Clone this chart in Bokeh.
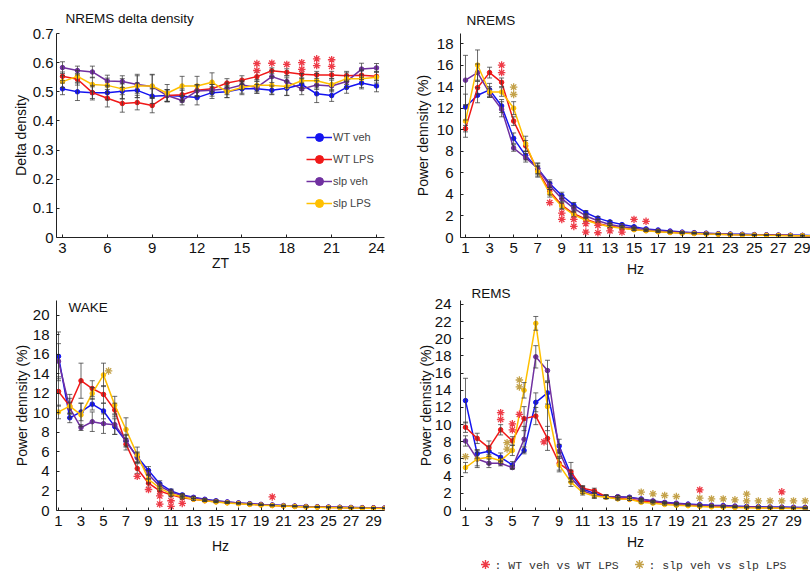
from bokeh.plotting import figure
from bokeh.layouts import column, row
from bokeh.models import Range1d, FixedTicker, Legend, LegendItem, Label, Spacer
from bokeh.core.properties import value
from bokeh.embed import file_html
from bokeh.resources import INLINE

# ---------------- data ----------------
SERIES = ["WT veh", "WT LPS", "slp veh", "slp LPS"]
COLORS = ["#1414f0", "#f01818", "#7030a0", "#ffc000"]
STAR_RED = "#ee3b47"
STAR_GOLD = "#c4a24a"

ZT = [3, 4, 5, 6, 7, 8, 9, 10, 11, 12, 13, 14, 15, 16, 17, 18, 19, 20, 21, 22, 23, 24]
HZ = [1, 2, 3, 4, 5, 6, 7, 8, 9, 10, 11, 12, 13, 14, 15, 16, 17, 18, 19, 20,
      21, 22, 23, 24, 25, 26, 27, 28, 29, 30]

# NREMS delta density
delta_wt_veh = [0.510, 0.500, 0.497, 0.497, 0.502, 0.505, 0.485, 0.487, 0.485, 0.480, 0.497,
                0.500, 0.510, 0.510, 0.505, 0.512, 0.525, 0.493, 0.487, 0.515, 0.530, 0.520]
delta_wt_lps = [0.553, 0.543, 0.497, 0.478, 0.460, 0.463, 0.453, 0.487, 0.490, 0.505, 0.510,
                0.530, 0.540, 0.552, 0.572, 0.567, 0.560, 0.558, 0.558, 0.555, 0.557, 0.553]
delta_slp_veh = [0.583, 0.573, 0.568, 0.537, 0.535, 0.525, 0.518, 0.487, 0.470, 0.503, 0.505,
                 0.510, 0.523, 0.515, 0.552, 0.535, 0.510, 0.523, 0.520, 0.535, 0.578, 0.582]
delta_slp_lps = [0.535, 0.553, 0.525, 0.522, 0.510, 0.520, 0.520, 0.495, 0.520, 0.520, 0.533,
                 0.500, 0.515, 0.522, 0.522, 0.518, 0.538, 0.538, 0.525, 0.545, 0.545, 0.550]
delta_err_wt_veh = [0.020, 0.030, 0.025, 0.025, 0.025, 0.025, 0.025, 0.020, 0.020, 0.025, 0.020,
                    0.020, 0.020, 0.015, 0.015, 0.025, 0.020, 0.030, 0.020, 0.020, 0.020, 0.020]
delta_err_wt_lps = [0.015, 0.020, 0.020, 0.030, 0.030, 0.025, 0.025, 0.020, 0.020, 0.020, 0.015,
                    0.015, 0.015, 0.015, 0.010, 0.012, 0.012, 0.012, 0.012, 0.015, 0.015, 0.015]
delta_err_slp_veh = [0.020, 0.015, 0.020, 0.020, 0.020, 0.030, 0.040, 0.020, 0.015, 0.020, 0.020,
                     0.020, 0.015, 0.020, 0.020, 0.020, 0.020, 0.015, 0.020, 0.020, 0.020, 0.015]
delta_err_slp_lps = [0.020, 0.020, 0.025, 0.025, 0.035, 0.040, 0.040, 0.030, 0.033, 0.033, 0.032,
                     0.020, 0.020, 0.020, 0.030, 0.030, 0.025, 0.025, 0.020, 0.020, 0.030, 0.020]
delta_star_red_x = [16, 16, 17, 18, 19, 19, 20, 20, 21, 21]
delta_star_red_y = [0.597, 0.573, 0.598, 0.594, 0.600, 0.577, 0.613, 0.590, 0.610, 0.587]

# NREMS power density
nrems_wt_veh = [12.1, 13.2, 13.7, 12.2, 9.2, 7.6, 6.4, 5.0, 3.9, 3.0, 2.3, 1.8, 1.45, 1.2, 1.0,
                0.8, 0.7, 0.6, 0.5, 0.45, 0.4, 0.35, 0.32, 0.3, 0.27, 0.25, 0.23, 0.21, 0.2, 0.19]
nrems_wt_lps = [10.1, 13.9, 15.3, 14.4, 10.8, 8.5, 6.2, 4.3, 3.0, 2.2, 1.7, 1.3, 1.05, 0.9, 0.75,
                0.65, 0.55, 0.48, 0.42, 0.38, 0.34, 0.3, 0.27, 0.25, 0.23, 0.21, 0.2, 0.18, 0.17, 0.16]
nrems_slp_veh = [14.6, 15.3, 13.4, 11.9, 8.3, 7.4, 6.4, 4.8, 3.6, 2.7, 2.0, 1.55, 1.2, 1.0, 0.85,
                 0.72, 0.62, 0.54, 0.47, 0.42, 0.38, 0.34, 0.3, 0.28, 0.25, 0.23, 0.21, 0.2, 0.18, 0.17]
nrems_slp_lps = [10.8, 16.0, 13.5, 13.5, 12.0, 8.7, 6.1, 4.1, 2.9, 2.1, 1.6, 1.25, 1.0, 0.85, 0.72,
                 0.62, 0.53, 0.46, 0.4, 0.36, 0.32, 0.29, 0.26, 0.24, 0.22, 0.2, 0.19, 0.17, 0.16, 0.15]
nrems_err_wt_veh = [1.2, 0.7, 0.6, 0.6, 0.5, 0.4, 0.5, 0.35, 0.3, 0.25, 0.2, 0.15, 0.12, 0.1, 0.08,
                    0.07, 0.06, 0.05, 0.05, 0.04, 0.04, 0.03, 0.03, 0.03, 0.03, 0.02, 0.02, 0.02, 0.02, 0.02]
nrems_err_wt_lps = [0.3, 0.6, 0.5, 0.4, 0.4, 0.5, 0.5, 0.35, 0.3, 0.25, 0.2, 0.15, 0.12, 0.1, 0.08,
                    0.07, 0.06, 0.05, 0.05, 0.04, 0.04, 0.03, 0.03, 0.03, 0.03, 0.02, 0.02, 0.02, 0.02, 0.02]
nrems_err_slp_veh = [2.3, 0.8, 0.4, 0.7, 0.3, 0.4, 0.5, 0.35, 0.3, 0.25, 0.2, 0.15, 0.12, 0.1, 0.08,
                     0.07, 0.06, 0.05, 0.05, 0.04, 0.04, 0.03, 0.03, 0.03, 0.03, 0.02, 0.02, 0.02, 0.02, 0.02]
nrems_err_slp_lps = [1.5, 1.4, 0.5, 0.4, 0.6, 0.7, 0.5, 0.35, 0.3, 0.25, 0.2, 0.15, 0.12, 0.1, 0.08,
                     0.07, 0.06, 0.05, 0.05, 0.04, 0.04, 0.03, 0.03, 0.03, 0.03, 0.02, 0.02, 0.02, 0.02, 0.02]
nrems_star_red_x = [4, 4, 8, 9, 9, 10, 10, 11, 11, 12, 12, 13, 14, 15, 16]
nrems_star_red_y = [16.0, 15.3, 3.24, 2.27, 1.68, 1.68, 1.03, 1.28, 0.5, 1.12, 0.44, 0.62, 0.5, 1.68, 1.5]
nrems_star_gold_x = [5, 5]
nrems_star_gold_y = [13.96, 13.27]

# WAKE power density
wake_wt_veh = [15.8, 9.5, 10.1, 10.9, 10.2, 8.6, 7.1, 5.5, 4.1, 2.75, 2.0, 1.6, 1.35, 1.15, 1.0,
               0.88, 0.78, 0.7, 0.62, 0.56, 0.5, 0.45, 0.41, 0.38, 0.35, 0.33, 0.31, 0.29, 0.27, 0.26]
wake_wt_lps = [12.2, 10.7, 13.3, 12.5, 11.9, 10.3, 6.8, 4.3, 2.8, 2.0, 1.6, 1.3, 1.15, 1.0, 0.9,
               0.8, 0.72, 0.64, 0.58, 0.52, 0.47, 0.42, 0.38, 0.35, 0.32, 0.3, 0.28, 0.26, 0.25, 0.24]
wake_slp_veh = [15.3, 10.5, 8.5, 9.1, 8.9, 8.8, 7.2, 5.4, 3.7, 2.5, 1.9, 1.5, 1.3, 1.1, 0.97,
                0.86, 0.77, 0.69, 0.62, 0.56, 0.5, 0.45, 0.41, 0.38, 0.35, 0.33, 0.31, 0.29, 0.27, 0.26]
wake_slp_lps = [10.1, 10.7, 9.8, 12.0, 13.9, 10.8, 8.3, 5.7, 3.2, 2.3, 1.7, 1.4, 1.15, 1.0, 0.87,
                0.78, 0.7, 0.62, 0.55, 0.5, 0.45, 0.4, 0.36, 0.33, 0.3, 0.28, 0.26, 0.24, 0.22, 0.21]
wake_err_wt_veh = [2.5, 0.5, 0.9, 0.6, 0.8, 0.8, 0.6, 0.5, 0.4, 0.3, 0.2, 0.15, 0.1, 0.08, 0.07,
                   0.06, 0.05, 0.05, 0.04, 0.04, 0.04, 0.03, 0.03, 0.03, 0.03, 0.03, 0.02, 0.02, 0.02, 0.02]
wake_err_wt_lps = [1.5, 1.2, 1.8, 0.8, 0.9, 0.7, 0.6, 0.5, 0.4, 0.3, 0.2, 0.15, 0.1, 0.08, 0.07,
                   0.06, 0.05, 0.05, 0.04, 0.04, 0.04, 0.03, 0.03, 0.03, 0.03, 0.03, 0.02, 0.02, 0.02, 0.02]
wake_err_slp_veh = [1.8, 0.6, 0.3, 1.0, 1.0, 1.0, 0.6, 0.5, 0.4, 0.3, 0.2, 0.15, 0.1, 0.08, 0.07,
                    0.06, 0.05, 0.05, 0.04, 0.04, 0.04, 0.03, 0.03, 0.03, 0.03, 0.03, 0.02, 0.02, 0.02, 0.02]
wake_err_slp_lps = [0.7, 0.8, 1.2, 0.6, 1.2, 0.9, 1.2, 0.8, 0.4, 0.3, 0.2, 0.15, 0.1, 0.08, 0.07,
                    0.06, 0.05, 0.05, 0.04, 0.04, 0.04, 0.03, 0.03, 0.03, 0.03, 0.03, 0.02, 0.02, 0.02, 0.02]
wake_star_red_x = [8, 9, 10, 10, 11, 11, 12, 20]
wake_star_red_y = [3.5, 2.15, 1.49, 0.66, 1.0, 0.43, 0.73, 1.39]
wake_star_gold_x = [5.45]
wake_star_gold_y = [14.3]

# REMS power density
rems_wt_veh = [12.8, 6.6, 6.9, 6.2, 5.3, 7.0, 12.6, 13.7, 7.5, 4.2, 2.5, 2.0, 1.6, 1.6, 1.55,
               1.35, 1.1, 0.95, 0.85, 0.75, 0.68, 0.62, 0.57, 0.52, 0.48, 0.45, 0.42, 0.4, 0.38, 0.36]
rems_wt_lps = [9.7, 8.4, 7.3, 9.4, 8.1, 10.7, 11.0, 8.4, 5.5, 4.5, 2.6, 2.3, 1.6, 1.4, 1.3,
               1.1, 1.0, 0.85, 0.75, 0.65, 0.55, 0.5, 0.45, 0.4, 0.37, 0.34, 0.32, 0.3, 0.28, 0.27]
rems_slp_veh = [8.1, 6.0, 5.5, 5.5, 5.0, 8.3, 17.9, 16.3, 6.9, 3.8, 2.3, 1.8, 1.6, 1.6, 1.5,
                1.3, 1.1, 0.9, 0.8, 0.7, 0.62, 0.56, 0.51, 0.46, 0.42, 0.39, 0.37, 0.35, 0.33, 0.31]
rems_slp_lps = [5.0, 6.0, 6.2, 5.8, 7.0, 14.0, 21.8, 12.1, 5.3, 3.3, 2.1, 1.7, 1.55, 1.35, 1.3,
                0.95, 0.85, 0.7, 0.6, 0.55, 0.48, 0.42, 0.38, 0.35, 0.32, 0.3, 0.28, 0.26, 0.24, 0.23]
rems_err_wt_veh = [2.6, 0.5, 0.6, 0.5, 0.4, 0.4, 1.1, 1.3, 0.8, 0.5, 0.3, 0.3, 0.2, 0.15, 0.12,
                   0.1, 0.1, 0.08, 0.07, 0.06, 0.06, 0.05, 0.05, 0.05, 0.05, 0.05, 0.05, 0.05, 0.05, 0.05]
rems_err_wt_lps = [0.6, 0.6, 0.8, 0.6, 0.5, 1.4, 1.0, 1.4, 0.8, 1.1, 0.3, 0.3, 0.2, 0.15, 0.12,
                   0.1, 0.1, 0.08, 0.07, 0.06, 0.06, 0.05, 0.05, 0.05, 0.05, 0.05, 0.05, 0.05, 0.05, 0.05]
rems_err_slp_veh = [0.6, 1.0, 0.5, 0.3, 0.2, 1.5, 1.3, 1.2, 0.8, 0.5, 0.3, 0.3, 0.2, 0.15, 0.12,
                    0.1, 0.1, 0.08, 0.07, 0.06, 0.06, 0.05, 0.05, 0.05, 0.05, 0.05, 0.05, 0.05, 0.05, 0.05]
rems_err_slp_lps = [0.6, 0.8, 0.8, 0.3, 0.6, 0.9, 0.8, 2.8, 0.8, 0.5, 0.3, 0.3, 0.2, 0.15, 0.12,
                    0.1, 0.1, 0.08, 0.07, 0.06, 0.06, 0.05, 0.05, 0.05, 0.05, 0.05, 0.05, 0.05, 0.05, 0.05]
rems_star_red_x = [4, 4, 5, 5, 5.6, 7.7, 21, 28]
rems_star_red_y = [11.4, 10.6, 10.1, 9.4, 11.2, 8.0, 2.4, 2.17]
rems_star_gold_x = [1, 4.55, 4.55, 5.6, 5.6, 16, 17, 18, 19, 21, 22, 23, 24, 25, 25, 26, 27, 28, 29, 30]
rems_star_gold_y = [6.27, 7.9, 7.16, 15.2, 14.4, 2.13, 1.94, 1.75, 1.63, 1.43, 1.35, 1.35, 1.24,
                    1.9, 1.12, 1.12, 1.12, 1.12, 1.12, 1.12]

KEY_LABELS = ["WT veh vs WT LPS", "slp veh vs slp LPS"]

DELTA_YTICKS = [0, 0.1, 0.2, 0.3, 0.4, 0.5, 0.6, 0.7]
DELTA_YLABELS = ["0", "0.1", "0.2", "0.3", "0.4", "0.5", "0.6", "0.7"]
DELTA_XTICKS = [3, 6, 9, 12, 15, 18, 21, 24]
HZ_TICKS = [1, 3, 5, 7, 9, 11, 13, 15, 17, 19, 21, 23, 25, 27, 29]

FONT = "Liberation Sans"


def make_panel(fig_box, frame, xcal, ycal, xticks, yticks, ylabels, xlabel, ylabel,
               xs, ys_list, errs_list, red_stars, gold_stars,
               tick_stand=(5, 5), label_stand=(2, 4)):
    fx, fy, fw, fh = fig_box
    l, r, t, b = frame
    (xv1, xp1), (xv2, xp2) = xcal
    (yv1, yp1), (yv2, yp2) = ycal
    xs_scale = (xv2 - xv1) / (xp2 - xp1)
    ys_scale = (yv2 - yv1) / (yp1 - yp2)
    x0 = round(xv1 + (l - xp1) * xs_scale, 6)
    x1 = round(xv1 + (r - xp1) * xs_scale, 6)
    y0 = round(yv1 + (yp1 - b) * ys_scale, 6)
    y1 = round(yv1 + (yp1 - t) * ys_scale, 6)

    def to_data(px, py):
        return (xv1 + (px - xp1) * xs_scale, yv1 + (yp1 - py) * ys_scale)

    p = figure(width=fw, height=fh, x_range=Range1d(x0, x1), y_range=Range1d(y0, y1),
               output_backend="svg", toolbar_location=None,
               min_border_left=l - fx, min_border_right=fx + fw - r,
               min_border_top=t - fy, min_border_bottom=fy + fh - b)
    p.xgrid.visible = False
    p.ygrid.visible = False
    p.outline_line_color = None
    p.background_fill_color = "white"
    p.border_fill_color = "white"

    for ax, ticks in ((p.xaxis[0], xticks), (p.yaxis[0], yticks)):
        ax.ticker = FixedTicker(ticks=ticks)
        ax.minor_tick_line_color = None
        ax.major_tick_in = 3
        ax.major_tick_out = 0
        ax.axis_line_color = "#222222"
        ax.major_tick_line_color = "#222222"
        ax.major_label_text_font = FONT
        ax.major_label_text_font_size = "15px"
        ax.major_label_text_color = "#111111"
        ax.axis_label_text_font = FONT
        ax.axis_label_text_font_size = "14px"
        ax.axis_label_text_font_style = "normal"
        ax.axis_label_text_color = "#111111"
    p.xaxis[0].axis_label = xlabel
    p.yaxis[0].axis_label = ylabel
    p.xaxis[0].major_label_standoff = tick_stand[0]
    p.yaxis[0].major_label_standoff = tick_stand[1]
    p.xaxis[0].axis_label_standoff = label_stand[0]
    p.yaxis[0].axis_label_standoff = label_stand[1]
    p.yaxis[0].major_label_overrides = {v: s for v, s in zip(yticks, ylabels)}

    renderers = []
    for ys, col in zip(ys_list, COLORS):
        ln = p.line(xs, ys, line_color=col, line_width=1.5)
        mk = p.scatter(xs, ys, size=4.5, marker="circle", fill_color=col, line_color=col)
        renderers.append((ln, mk))
    for ys, errs in zip(ys_list, errs_list):
        lo = [v - e for v, e in zip(ys, errs)]
        hi = [v + e for v, e in zip(ys, errs)]
        p.segment(xs, lo, xs, hi, line_color="#3a3a3a", line_width=1, line_alpha=0.75)
        p.scatter(xs, lo, marker="dash", size=5, line_color="#3a3a3a", line_alpha=0.75)
        p.scatter(xs, hi, marker="dash", size=5, line_color="#3a3a3a", line_alpha=0.75)

    if red_stars:
        p.scatter(red_stars[0], red_stars[1], marker="asterisk", size=7.5,
                  line_color=STAR_RED, line_width=1.3)
    if gold_stars:
        p.scatter(gold_stars[0], gold_stars[1], marker="asterisk", size=7.5,
                  line_color=STAR_GOLD, line_width=1.3)
    return p, renderers, to_data


def set_title(p, text, offset, standoff):
    p.title.text = text
    p.title.text_font = FONT
    p.title.text_font_size = "13.5px"
    p.title.text_font_style = "normal"
    p.title.text_color = "#111111"
    p.title.align = "left"
    p.title.offset = offset
    p.title.standoff = standoff


# ---------- panel 1: NREMS delta density ----------
p1, r1, _ = make_panel(
    (0, 0, 400, 280), (56, 384, 33, 237), ((3, 62), (24, 376)), ((0, 237), (0.7, 33)),
    DELTA_XTICKS, DELTA_YTICKS, DELTA_YLABELS,
    "ZT", "Delta density", ZT,
    [delta_wt_veh, delta_wt_lps, delta_slp_veh, delta_slp_lps],
    [delta_err_wt_veh, delta_err_wt_lps, delta_err_slp_veh, delta_err_slp_lps],
    (delta_star_red_x, delta_star_red_y), None,
    tick_stand=(5, 3), label_stand=(-1, 1))
set_title(p1, "NREMS delta density", 9, 16)

legend = Legend(items=[LegendItem(label=n, renderers=list(rr)) for n, rr in zip(SERIES, r1)],
                location=(250, 24), orientation="vertical", padding=0, margin=0, spacing=2,
                glyph_width=26, glyph_height=20, label_height=20, label_standoff=1,
                label_text_font=FONT, label_text_font_size="11px",
                border_line_color=None, background_fill_alpha=0)
p1.add_layout(legend)

# ---------- panel 2: NREMS ----------
p2, _, _ = make_panel(
    (400, 0, 410, 280), (460, 810, 33, 237), ((1, 465), (29, 802)), ((0, 237), (18, 43)),
    HZ_TICKS, list(range(0, 19, 2)), [str(v) for v in range(0, 19, 2)],
    "Hz", "Power dennsity (%)", HZ,
    [nrems_wt_veh, nrems_wt_lps, nrems_slp_veh, nrems_slp_lps],
    [nrems_err_wt_veh, nrems_err_wt_lps, nrems_err_slp_veh, nrems_err_slp_lps],
    (nrems_star_red_x, nrems_star_red_y), (nrems_star_gold_x, nrems_star_gold_y),
    tick_stand=(5, 7), label_stand=(5, 3))
set_title(p2, "NREMS", 6, 12)

# ---------- panel 3: WAKE ----------
p3, _, to3 = make_panel(
    (0, 280, 400, 276), (56, 384, 300, 512), ((1, 58), (29, 373)), ((0, 512), (20, 315)),
    HZ_TICKS, list(range(0, 21, 2)), [str(v) for v in range(0, 21, 2)],
    "Hz", "Power dennsity (%)", HZ,
    [wake_wt_veh, wake_wt_lps, wake_slp_veh, wake_slp_lps],
    [wake_err_wt_veh, wake_err_wt_lps, wake_err_slp_veh, wake_err_slp_lps],
    (wake_star_red_x, wake_star_red_y), (wake_star_gold_x, wake_star_gold_y),
    tick_stand=(5, 7), label_stand=(9, 0))
wx, wy = to3(68, 307)
p3.add_layout(Label(x=wx, y=wy, text="WAKE", text_font=FONT, text_font_size="13.5px",
                    text_color="#111111", text_align="left", text_baseline="middle"))

# ---------- panel 4: REMS ----------
p4, _, _ = make_panel(
    (400, 280, 410, 276), (460, 810, 300, 512), ((1, 465), (29, 793)), ((0, 512), (24, 304)),
    HZ_TICKS, list(range(0, 25, 2)), [str(v) for v in range(0, 25, 2)],
    "Hz", "Power dennsity (%)", HZ,
    [rems_wt_veh, rems_wt_lps, rems_slp_veh, rems_slp_lps],
    [rems_err_wt_veh, rems_err_wt_lps, rems_err_slp_veh, rems_err_slp_lps],
    (rems_star_red_x, rems_star_red_y), (rems_star_gold_x, rems_star_gold_y),
    tick_stand=(5, 9), label_stand=(5, -2))
set_title(p4, "REMS", 11, 0)

# ---------- significance key under the REMS panel (pixel-like key coordinates) ----------
pk = figure(width=410, height=17, x_range=Range1d(0, 350), y_range=Range1d(0, 17),
            x_axis_location=None, y_axis_location=None, output_backend="svg",
            toolbar_location=None, min_border_left=60, min_border_right=0,
            min_border_top=0, min_border_bottom=0)
pk.outline_line_color = None
pk.grid.visible = False
KEY_STAR_X = [25, 179]
KEY_TEXT_X = [34, 188]
pk.scatter(KEY_STAR_X, [9, 9], marker="asterisk", size=9,
           line_color=[STAR_RED, STAR_GOLD], line_width=1.4)
pk.text(KEY_TEXT_X, [8.5, 8.5], text=[": " + s for s in KEY_LABELS],
        text_font=value("Liberation Mono"), text_font_size="11.5px", text_color="#333333",
        text_baseline="middle", text_align="left")

layout = column(row(p1, p2), row(p3, p4), row(Spacer(width=400, height=17), pk))
open("out.html", "w").write(file_html(layout, INLINE))
